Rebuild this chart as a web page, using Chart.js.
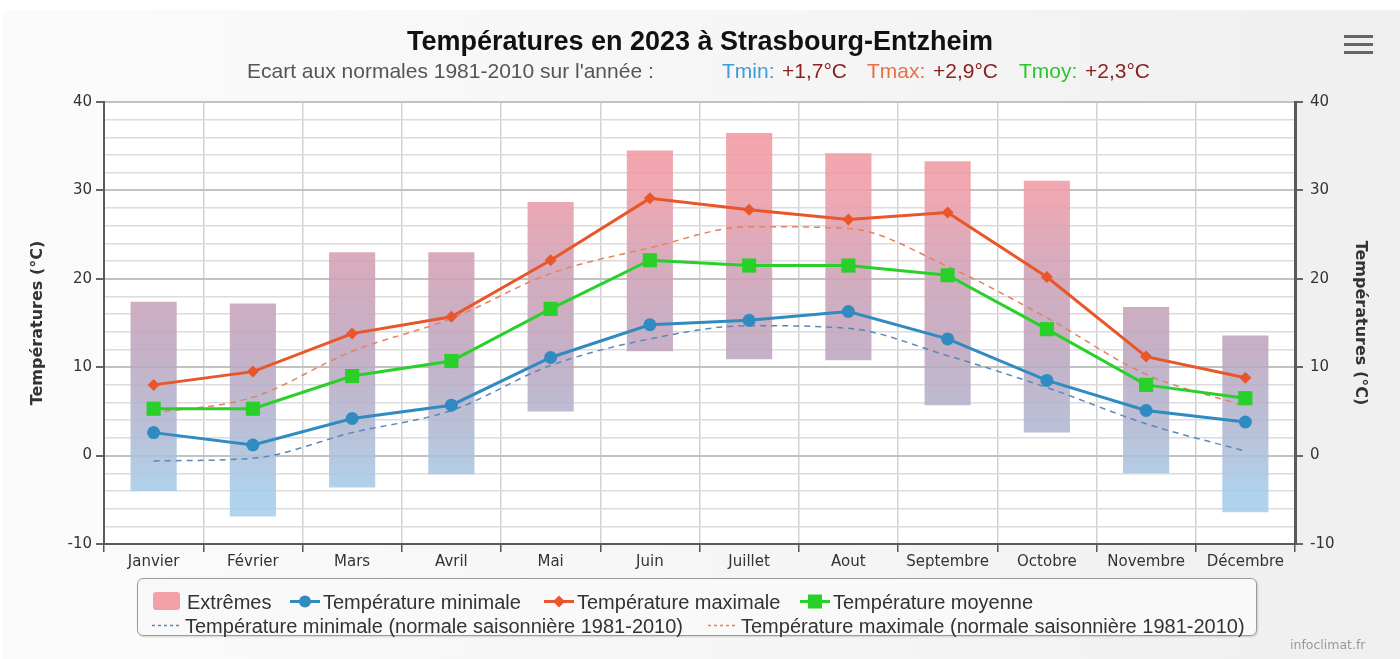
<!DOCTYPE html>
<html><head><meta charset="utf-8">
<script src="https://cdn.jsdelivr.net/npm/chart.js@4.4.1/dist/chart.umd.min.js"></script>
<style>
html,body{margin:0;padding:0;width:1400px;height:659px;overflow:hidden;background:#fff;}
#bg{position:absolute;left:3px;top:10px;width:1397px;height:649px;background:linear-gradient(90deg,#fbfbfb 0%,#f5f5f5 60%,#efefef 100%);}
#c{position:absolute;left:0;top:0;}
.t{position:absolute;white-space:nowrap;font-family:"Liberation Sans",Arial,sans-serif;line-height:1;}
#title{left:0;width:1400px;text-align:center;top:28px;font-size:27px;font-weight:bold;color:#111;}
.sub{top:60px;font-size:21px;}
#legend{position:absolute;left:137px;top:578px;width:1118px;height:56px;border:1px solid #9a9a9a;border-radius:6px;background:#f9f9f9;box-shadow:1px 1px 2px rgba(0,0,0,0.15);}
.li{position:absolute;font-family:"Liberation Sans",Arial,sans-serif;font-size:20px;color:#333;white-space:nowrap;line-height:1;}
.li canvas{position:absolute;}
.menu{position:absolute;left:1344px;width:29px;height:3px;background:#666;}
#credit{left:1290px;top:639px;font-size:12.5px;color:#999;font-family:"DejaVu Sans",sans-serif;}
</style></head>
<body>
<div id="bg"></div>
<canvas id="c" width="1400" height="659"></canvas>
<div id="title" class="t">Températures en 2023 à Strasbourg-Entzheim</div>
<div class="t sub" style="left:247px;color:#555">Ecart aux normales 1981-2010 sur l'année :</div>
<div class="t sub" style="left:722px;color:#3d9bd8">Tmin:</div>
<div class="t sub" style="left:782px;color:#8a1f1f">+1,7°C</div>
<div class="t sub" style="left:867px;color:#ea7044">Tmax:</div>
<div class="t sub" style="left:933px;color:#8a1f1f">+2,9°C</div>
<div class="t sub" style="left:1019px;color:#2dc42d">Tmoy:</div>
<div class="t sub" style="left:1085px;color:#8a1f1f">+2,3°C</div>
<div class="menu" style="top:35px"></div><div class="menu" style="top:43px"></div><div class="menu" style="top:51px"></div>
<div id="legend"></div>
<div id="credit" class="t">infoclimat.fr</div>
<script>
const months = ['Janvier','Février','Mars','Avril','Mai','Juin','Juillet','Aout','Septembre','Octobre','Novembre','Décembre'];
const extremeMin = [-4.0,-6.9,-3.6,-2.1,5.0,11.8,10.9,10.8,5.7,2.6,-2.0,-6.4];
const extremeMax = [17.4,17.2,23.0,23.0,28.7,34.5,36.5,34.2,33.3,31.1,16.8,13.6];
const tmin = [2.6,1.2,4.2,5.7,11.1,14.8,15.3,16.3,13.2,8.5,5.1,3.8];
const tmax = [8.0,9.5,13.8,15.7,22.1,29.1,27.8,26.7,27.5,20.2,11.2,8.8];
const tmoy = [5.3,5.3,9.0,10.7,16.6,22.1,21.5,21.5,20.4,14.3,8.0,6.5];
const tminNormal = [-0.6,-0.3,2.6,5.1,10.2,13.2,14.7,14.4,11.3,7.7,3.6,0.5];
const tmaxNormal = [4.8,6.6,11.8,15.5,20.6,23.5,25.9,25.7,21.4,15.6,9.2,5.6];
const yTickLabels = [-10,0,10,20,30,40];
const seriesLabels = ['Extrêmes','Température minimale','Température maximale','Température moyenne',
  'Température minimale (normale saisonnière 1981-2010)','Température maximale (normale saisonnière 1981-2010)'];

const COL_MIN='#2f8bc0', COL_MAX='#e8562a', COL_MOY='#2ad02a', COL_NMIN='#5a87b8', COL_NMAX='#e3825c';

let grad=null;
function barFill(ctx){
  const ch=ctx.chart, ca=ch.chartArea;
  if(!ca) return '#d0a8b8';
  if(!grad){
    grad=ch.ctx.createLinearGradient(0,ca.top,0,ca.bottom);
    grad.addColorStop(0,'rgba(245,150,158,0.88)');
    grad.addColorStop(0.2,'rgba(238,156,166,0.88)');
    grad.addColorStop(0.36,'rgba(210,160,180,0.88)');
    grad.addColorStop(0.56,'rgba(190,165,190,0.88)');
    grad.addColorStop(0.74,'rgba(176,184,210,0.88)');
    grad.addColorStop(0.88,'rgba(166,203,232,0.88)');
    grad.addColorStop(1,'rgba(164,212,244,0.88)');
  }
  return grad;
}
const plotBg={id:'plotBg',beforeDraw(ch){const {ctx,chartArea:a}=ch;ctx.save();ctx.fillStyle='#fff';ctx.fillRect(a.left,a.top,a.right-a.left,a.bottom-a.top);ctx.restore();}};

const tickFont={family:'DejaVu Sans',size:15};
const isMajor=v=>yTickLabels.includes(v);
function yScale(pos){
  return {
    position:pos,min:-10,max:40,
    ticks:{stepSize:2,autoSkip:false,font:tickFont,color:'#333',padding:pos==='left'?4:7,
      callback:v=>isMajor(v)?String(v):''},
    grid:{drawOnChartArea:pos==='left',
      color:c=>c.tick&&isMajor(c.tick.value)?'#c2c2c2':'#dcdcdc',
      lineWidth:c=>c.tick&&isMajor(c.tick.value)?2:1.5,
      tickColor:c=>c.tick&&isMajor(c.tick.value)?'#666':'rgba(0,0,0,0)',
      tickLength:8},
    border:{color:'#5a5a5a',width:pos==='left'?2:3},
    title:{display:true,text:'Températures (°C)',color:'#333',
      font:{family:'DejaVu Sans',size:16,weight:'bold'},padding:{top:pos==='left'?28:30,bottom:0}},
    afterFit(s){s.width=pos==='left'?104:105;}
  };
}

const chart=new Chart(document.getElementById('c'),{
  type:'bar',
  data:{labels:months,datasets:[
    {type:'bar',label:seriesLabels[0],data:extremeMin.map((v,i)=>[v,extremeMax[i]]),backgroundColor:barFill,
      borderWidth:0,barPercentage:1,categoryPercentage:0.465,order:10,yAxisID:'y'},
    {type:'line',label:seriesLabels[1],data:tmin,borderColor:COL_MIN,backgroundColor:COL_MIN,borderWidth:3,
      pointStyle:'circle',pointRadius:6.5,pointBorderWidth:0,pointBackgroundColor:COL_MIN,tension:0,order:3,yAxisID:'y'},
    {type:'line',label:seriesLabels[2],data:tmax,borderColor:COL_MAX,backgroundColor:COL_MAX,borderWidth:3,
      pointStyle:'rectRot',pointRadius:6,pointBorderWidth:0,pointBackgroundColor:COL_MAX,tension:0,order:2,yAxisID:'y'},
    {type:'line',label:seriesLabels[3],data:tmoy,borderColor:COL_MOY,backgroundColor:COL_MOY,borderWidth:3,
      pointStyle:'rect',pointRadius:10,pointBorderWidth:0,pointBackgroundColor:COL_MOY,tension:0,order:1,yAxisID:'y'},
    {type:'line',label:seriesLabels[4],data:tminNormal,borderColor:COL_NMIN,borderWidth:1.5,borderDash:[6,5],
      pointRadius:0,cubicInterpolationMode:'monotone',order:5,yAxisID:'y'},
    {type:'line',label:seriesLabels[5],data:tmaxNormal,borderColor:COL_NMAX,borderWidth:1.5,borderDash:[6,5],
      pointRadius:0,cubicInterpolationMode:'monotone',order:4,yAxisID:'y'}
  ]},
  options:{
    responsive:false,animation:false,
    layout:{padding:{top:102,left:0,right:0,bottom:0}},
    plugins:{legend:{display:false},tooltip:{enabled:false},title:{display:false}},
    scales:{
      x:{offset:true,grid:{offset:true,color:'#d2d2d2',lineWidth:1.5,tickColor:'#555',tickLength:8},
        border:{color:'#5a5a5a',width:2},
        ticks:{font:tickFont,color:'#333',padding:1,maxRotation:0,autoSkip:false},
        afterFit(s){s.height=115;}},
      y:yScale('left'),
      y2:yScale('right')
    }
  },
  plugins:[plotBg]
});

// HTML legend built from datasets
const legendPos=[[150,590],[288,590],[542,590],[798,590],[150,614],[706,614]];
const leg=document.getElementById('legend');
chart.data.datasets.forEach((ds,i)=>{
  const [x,y]=legendPos[i];
  const item=document.createElement('div');item.className='li';
  item.style.left=(x-137)+'px';item.style.top=(y-578)+'px';
  const cv=document.createElement('canvas');cv.width=32;cv.height=20;cv.style.left='0px';cv.style.top='0px';
  const g=cv.getContext('2d');
  if(ds.type==='bar'){
    g.fillStyle='#f3a1a7';g.beginPath();g.roundRect(2,1,27,18,3);g.fill();
  } else {
    g.strokeStyle=ds.borderColor;g.lineWidth=ds.borderDash?1.5:3;
    if(ds.borderDash)g.setLineDash([3,3]);
    g.beginPath();g.moveTo(1,10.5);g.lineTo(31,10.5);g.stroke();g.setLineDash([]);
    g.fillStyle=ds.borderColor;
    if(ds.pointStyle==='circle'){g.beginPath();g.arc(16,10.5,6,0,Math.PI*2);g.fill();}
    if(ds.pointStyle==='rectRot'){g.beginPath();g.moveTo(16,4.5);g.lineTo(22,10.5);g.lineTo(16,16.5);g.lineTo(10,10.5);g.closePath();g.fill();}
    if(ds.pointStyle==='rect'){g.fillRect(9,3.5,14,14);}
  }
  item.appendChild(cv);
  const sp=document.createElement('span');sp.textContent=ds.label;sp.style.position='absolute';
  sp.style.left=(ds.type==='bar'?36:34)+'px';sp.style.top='1px';
  item.appendChild(sp);
  leg.appendChild(item);
});
</script>
</body></html>
